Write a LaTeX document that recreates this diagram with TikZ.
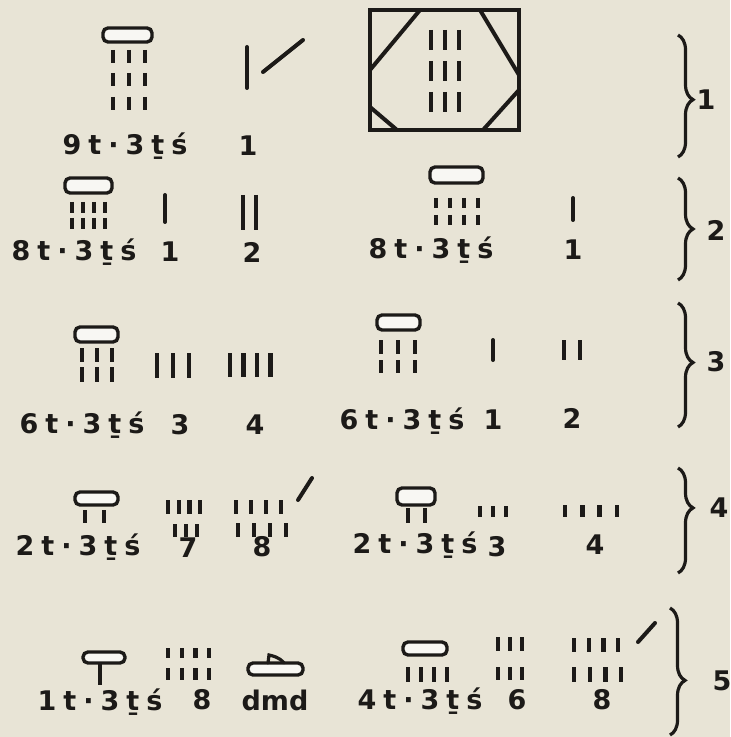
\documentclass[tikz,border=0pt]{standalone}
\usepackage{fontspec}
\setmainfont{DejaVu Sans}
\newfontfamily\lblfont[LetterSpace=26]{DejaVu Sans}
\usetikzlibrary{decorations.pathreplacing}
\definecolor{paper}{RGB}{232,228,214}
\definecolor{ink}{RGB}{28,26,24}
\newcommand\tts[1]{{\lblfont\bfseries #1t·3ṯś}}
% x, y top, count, gap, length
\newcommand\tallies[5]{%
  \foreach \k in {1,...,#3}
    \draw[tallybar] ({#1+(\k-1)*#4},#2) -- ++(0,#5);}

\begin{document}
\begin{tikzpicture}[
  x=0.5pt, y=-0.5pt,
  font=\fontsize{13.5}{16}\selectfont\bfseries,
  tallybar/.style={draw=ink,line width=2.2pt},
  stroke/.style={draw=ink,line width=2pt,line cap=round},
  sign/.style={draw=ink,fill=white!70!paper,line width=1.7pt,rounded corners=2.5pt},
  lbl/.style={text=ink,inner sep=0pt},
  grp/.style={draw=ink,line width=1.6pt,decorate,
              decoration={brace,amplitude=7.5pt,aspect=#1}},
  grp/.default=0.5,
]
\fill[paper] (0,0) rectangle (730,737);
\useasboundingbox (0,0) rectangle (730,737);

% row 1
\draw[sign] (103,28) rectangle (152,42);
\tallies{113}{50}{3}{16}{13}
\tallies{113}{73}{3}{16}{13}
\tallies{113}{97}{3}{16}{13}
\draw[stroke] (247,47) -- (247,88);
\draw[stroke] (263,72) -- (303,40);
\node[lbl] (l1a) at (125,146) {\tts{9}};
\node[lbl] (n1a) at (248,146) {1};
\draw[sign,fill=none,rounded corners=0pt] (370,10) rectangle (519,130);
\draw[stroke] (370,70) -- (420,10);
\draw[stroke] (480,10) -- (519,75);
\draw[stroke] (370,107) -- (397,130);
\draw[stroke] (483,130) -- (519,90);
\tallies{431}{30}{3}{14}{20}
\tallies{431}{61}{3}{14}{20}
\tallies{431}{92}{3}{14}{20}
\draw[grp=0.53] (678,35) -- (678,157);
\node[lbl] (g1) at (706,100) {1};

% row 2
\draw[sign] (65,178) rectangle (112,193);
\tallies{72}{202}{4}{11}{11}
\tallies{72}{218}{4}{11}{11}
\draw[stroke] (165,195) -- (165,222);
\tallies{243}{195}{2}{13}{35}
\node[lbl] (l2a) at (74,252) {\tts{8}};
\node[lbl] (n2a) at (170,252) {1};
\node[lbl] (n2b) at (252,252) {2};
\draw[sign] (430,167) rectangle (483,183);
\tallies{436}{198}{4}{14}{10}
\tallies{436}{215}{4}{14}{10}
\draw[stroke] (573,198) -- (573,220);
\node[lbl] (l2b) at (431,250) {\tts{8}};
\node[lbl] (n2c) at (573,250) {1};
\draw[grp] (678,178) -- (678,280);
\node[lbl] (g2) at (716,230) {2};

% row 3
\draw[sign] (75,327) rectangle (118,342);
\tallies{82}{348}{3}{15}{14}
\tallies{82}{367}{3}{15}{15}
\tallies{157}{353}{3}{16}{25}
\tallies{230}{353}{4}{13.5}{24}
\node[lbl] (l3a) at (82,425) {\tts{6}};
\node[lbl] (n3a) at (180,425) {3};
\node[lbl] (n3b) at (255,425) {4};
\draw[sign] (377,315) rectangle (420,330);
\tallies{381}{340}{3}{17}{14}
\tallies{381}{360}{3}{17}{13}
\draw[stroke] (493,340) -- (493,360);
\tallies{564}{340}{2}{16}{20}
\node[lbl] (l3b) at (402,421) {\tts{6}};
\node[lbl] (n3c) at (493,420) {1};
\node[lbl] (n3d) at (572,418) {2};
\draw[grp=0.48] (678,303) -- (678,427);
\node[lbl] (g3) at (716,362) {3};

% row 4
\draw[sign] (75,492) rectangle (118,505);
\tallies{85}{510}{2}{19}{13}
\tallies{168}{500}{4}{10.7}{14}
\tallies{175}{524}{3}{11}{13}
\tallies{236}{500}{4}{15}{14}
\tallies{238}{523}{4}{16}{14}
\draw[stroke] (298,500) -- (312,478);
\node[lbl] (l4a) at (78,547) {\tts{2}};
\node[lbl] (n4a) at (188,548) {7};
\node[lbl] (n4b) at (262,547) {8};
\draw[sign] (397,488) rectangle (435,505);
\tallies{408}{508}{2}{17}{15}
\tallies{480}{506}{3}{13}{11}
\tallies{565}{505}{4}{17.3}{12}
\node[lbl] (l4b) at (415,545) {\tts{2}};
\node[lbl] (n4c) at (497,547) {3};
\node[lbl] (n4d) at (595,545) {4};
\draw[grp=0.38] (678,468) -- (678,573);
\node[lbl] (g4) at (719,508) {4};

% row 5
\draw[sign] (83,652) rectangle (125,663);
\draw[tallybar] (100,663) -- (100,685);
\tallies{168}{648}{4}{13.7}{10}
\tallies{168}{668}{4}{13.7}{12}
\draw[sign] (248,663) rectangle (303,675);
\draw[stroke,line width=1.6pt] (268,663) -- (269,655)
  .. controls (273,656) and (279,657) .. (284,663);
\node[lbl] (l5a) at (100,702) {\tts{1}};
\node[lbl] (n5a) at (202,700) {8};
\node[lbl] (n5b) at (275,700) {dmd};
\draw[sign] (403,642) rectangle (447,655);
\tallies{408}{667}{4}{13}{15}
\tallies{498}{637}{3}{12}{14}
\tallies{498}{667}{3}{12}{13}
\tallies{574}{638}{4}{14.7}{14}
\tallies{574}{667}{4}{15.7}{15}
\draw[stroke] (638,642) -- (655,623);
\node[lbl] (l5b) at (420,701) {\tts{4}};
\node[lbl] (n5c) at (517,700) {6};
\node[lbl] (n5d) at (602,700) {8};
\draw[grp=0.57] (670,608) -- (670,735);
\node[lbl] (g5) at (722,681) {5};
\end{tikzpicture}
\end{document}
